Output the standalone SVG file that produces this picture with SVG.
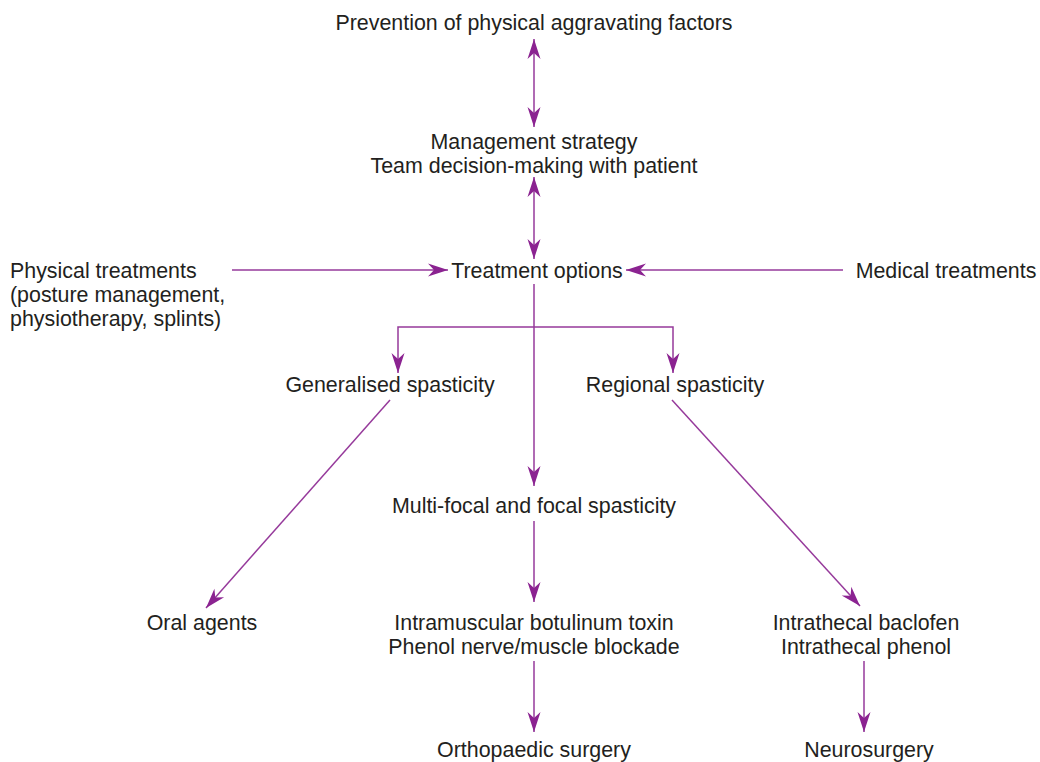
<svg xmlns="http://www.w3.org/2000/svg" width="1040" height="762" viewBox="0 0 1040 762">
<style>
text{font-family:"Liberation Sans",Arial,sans-serif;font-size:21.4px;fill:#231f20;text-anchor:middle}
.l{text-anchor:start}
.c{fill:none;stroke:#963a9b;stroke-width:1.5}
</style>
<defs>
<marker id="ah" viewBox="-21 -7 22 14" markerWidth="22" markerHeight="14" refX="0" refY="0" orient="auto-start-reverse" markerUnits="userSpaceOnUse">
<path d="M0,0 L-20,-6.5 L-14,0 L-20,6.5 Z" fill="#8b2391"/>
</marker>
</defs>
<rect width="1040" height="762" fill="#fff"/>
<g id="connectors">
<line class="c" x1="534" y1="39" x2="534" y2="127" marker-start="url(#ah)" marker-end="url(#ah)"/>
<line class="c" x1="534" y1="177" x2="534" y2="259" marker-start="url(#ah)" marker-end="url(#ah)"/>
<line class="c" x1="232" y1="270" x2="448" y2="270" marker-end="url(#ah)"/>
<line class="c" x1="843" y1="270" x2="626" y2="270" marker-end="url(#ah)"/>
<line class="c" x1="534" y1="284" x2="534" y2="486" marker-end="url(#ah)"/>
<polyline class="c" points="398,373 398,327 673,327 673,373" marker-start="url(#ah)" marker-end="url(#ah)"/>
<line class="c" x1="390" y1="400" x2="206" y2="608" marker-end="url(#ah)"/>
<line class="c" x1="672" y1="400" x2="860" y2="606" marker-end="url(#ah)"/>
<line class="c" x1="534" y1="521" x2="534" y2="602" marker-end="url(#ah)"/>
<line class="c" x1="534" y1="661" x2="534" y2="732" marker-end="url(#ah)"/>
<line class="c" x1="864" y1="661" x2="864" y2="732" marker-end="url(#ah)"/>
</g>
<g id="prevention"><text x="534" y="30">Prevention of physical aggravating factors</text></g>
<g id="management"><text x="534" y="149">Management strategy</text><text x="534" y="173">Team decision-making with patient</text></g>
<g id="treatment-options"><text x="537" y="278">Treatment options</text></g>
<g id="physical"><text class="l" x="10" y="278">Physical treatments</text><text class="l" x="10" y="302">(posture management,</text><text class="l" x="10" y="326">physiotherapy, splints)</text></g>
<g id="medical"><text x="946" y="278">Medical treatments</text></g>
<g id="generalised"><text x="390" y="392">Generalised spasticity</text></g>
<g id="regional"><text x="675" y="392">Regional spasticity</text></g>
<g id="multifocal"><text x="534" y="513">Multi-focal and focal spasticity</text></g>
<g id="oral"><text x="202" y="630">Oral agents</text></g>
<g id="botulinum"><text x="534" y="630">Intramuscular botulinum toxin</text><text x="534" y="654">Phenol nerve/muscle blockade</text></g>
<g id="intrathecal"><text x="866" y="630">Intrathecal baclofen</text><text x="866" y="654">Intrathecal phenol</text></g>
<g id="orthopaedic"><text x="534" y="757">Orthopaedic surgery</text></g>
<g id="neurosurgery"><text x="869" y="757">Neurosurgery</text></g>
</svg>
